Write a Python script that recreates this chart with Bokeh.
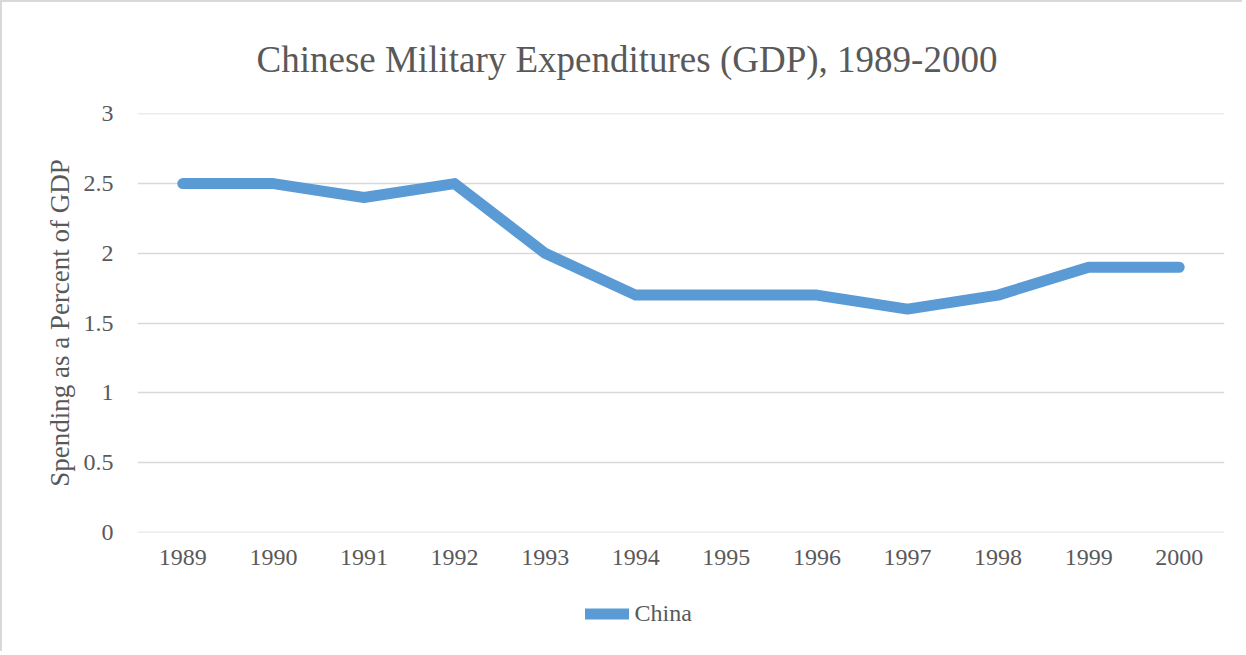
from bokeh.plotting import figure
from bokeh.models import Range1d, FactorRange, Legend, LegendItem, Title
from bokeh.layouts import column
from bokeh.embed import file_html
from bokeh.resources import INLINE

years = ["1989", "1990", "1991", "1992", "1993", "1994", "1995", "1996", "1997", "1998", "1999", "2000"]
china = [2.5, 2.5, 2.4, 2.5, 2.0, 1.7, 1.7, 1.7, 1.6, 1.7, 1.9, 1.9]
y_ticks = [0, 0.5, 1, 1.5, 2, 2.5, 3]
y_tick_labels = {0: "0", 0.5: "0.5", 1: "1", 1.5: "1.5", 2: "2", 2.5: "2.5", 3: "3"}

FONT = "Liberation Serif"
TXT = "#595959"
GRID = "#d9d9d9"
BLUE = "#5B9BD5"

p = figure(frame_width=1085, frame_height=417, x_range=FactorRange(*years), y_range=Range1d(-0.003, 3.003),
           output_backend="svg", toolbar_location=None,
           min_border_left=135, min_border_right=20, min_border_top=111, min_border_bottom=45)
p.styles = {"border-left": "2px solid #d9d9d9", "border-top": "2px solid #d9d9d9"}
p.outline_line_color = None
p.background_fill_color = "white"
p.border_fill_color = "white"

t = Title(text="Chinese Military Expenditures (GDP), 1989-2000", align="left",
          text_font=FONT, text_font_size="37px", text_color=TXT, text_font_style="normal",
          offset=119, standoff=67)
p.add_layout(t, "above")

r = p.line(years, china, line_color=BLUE, line_width=11, line_join="round", line_cap="round")

p.xgrid.grid_line_color = None
p.ygrid.grid_line_color = GRID
p.ygrid.grid_line_width = 1.5
p.ygrid.ticker = y_ticks

p.yaxis.ticker = y_ticks
p.yaxis.major_label_overrides = y_tick_labels
p.yaxis.axis_line_color = None
p.yaxis.major_tick_line_color = None
p.yaxis.minor_tick_line_color = None
p.yaxis.major_label_standoff = 18
p.yaxis.major_label_text_font = FONT
p.yaxis.major_label_text_font_size = "24px"
p.yaxis.major_label_text_color = TXT
p.yaxis.axis_label = "Spending as a Percent of GDP"
p.yaxis.axis_label_text_font = FONT
p.yaxis.axis_label_text_font_size = "27px"
p.yaxis.axis_label_text_font_style = "normal"
p.yaxis.axis_label_text_color = TXT
p.yaxis.axis_label_standoff = 6

p.xaxis.axis_line_color = None
p.xaxis.major_tick_line_color = None
p.xaxis.minor_tick_line_color = None
p.xaxis.major_label_standoff = 11
p.xaxis.major_label_text_font = FONT
p.xaxis.major_label_text_font_size = "24px"
p.xaxis.major_label_text_color = TXT

# legend strip below the chart (a second figure whose frame only holds the legend)
p2 = figure(frame_width=1085, frame_height=76, x_range=p.x_range, y_range=Range1d(10, 11),
            output_backend="svg", toolbar_location=None,
            min_border_left=135, min_border_right=20, min_border_top=0, min_border_bottom=0)
p2.styles = {"border-left": "2px solid #d9d9d9"}
p2.outline_line_color = None
p2.axis.visible = False
p2.grid.grid_line_color = None
p2.background_fill_color = "white"
p2.border_fill_color = "white"
r2 = p2.line(years, china, line_color=BLUE, line_width=11, line_join="round", line_cap="round")

legend = Legend(items=[LegendItem(label="China", renderers=[r2])],
                location="center", orientation="horizontal",
                glyph_width=44, glyph_height=20, label_standoff=6, label_width=142,
                label_text_font=FONT, label_text_font_size="24px", label_text_color=TXT,
                border_line_color=None, background_fill_alpha=0, padding=0, margin=0)
p2.add_layout(legend, "center")

layout = column(p, p2, spacing=0)
open("out.html", "w").write(file_html(layout, INLINE))
